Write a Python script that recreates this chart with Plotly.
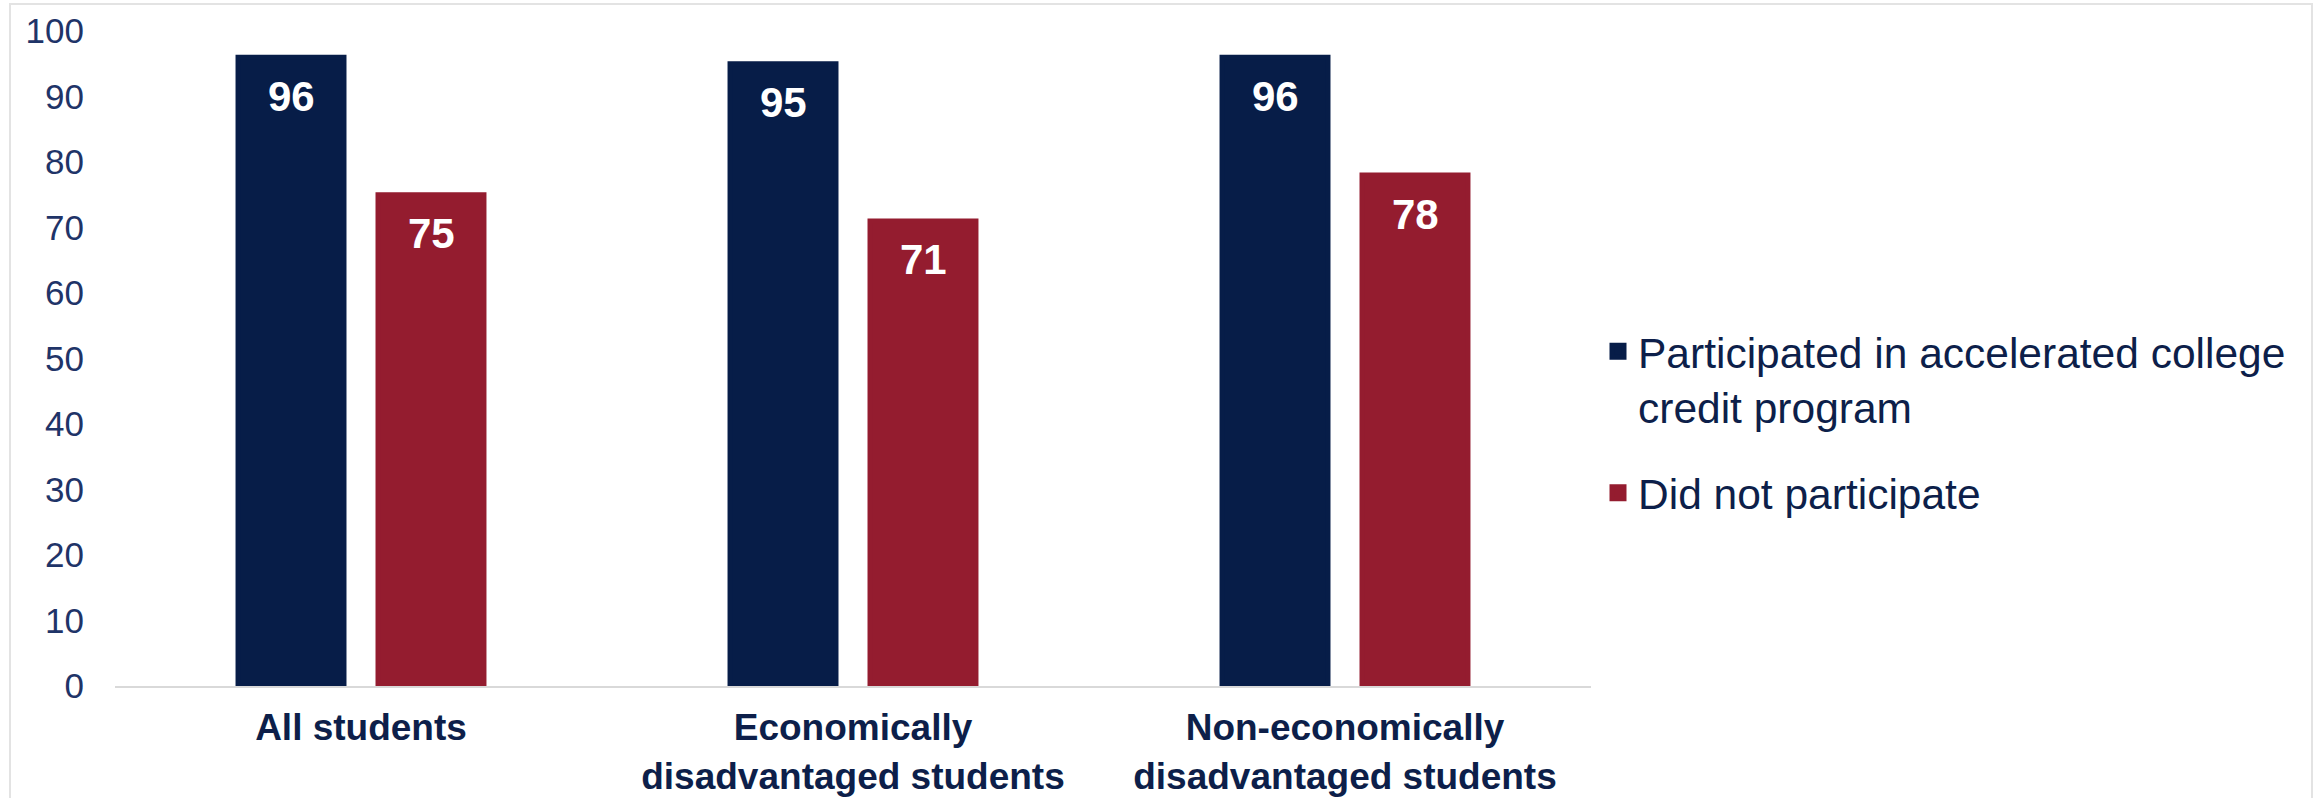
import plotly.graph_objects as go

# ---- data ----
categories = [
    "All students",
    "Economically<br>disadvantaged students",
    "Non-economically<br>disadvantaged students",
]
series_names = [
    "Participated in accelerated college<br>credit program",
    "Did not participate",
]
participated = [96, 95, 96]
did_not = [75, 71, 78]
y_ticks = [0, 10, 20, 30, 40, 50, 60, 70, 80, 90, 100]

# ---- styles ----
W, H = 2320, 798
L, R, T, B = 115, 729, 31, 112
PW, PH = W - L - R, H - T - B
NAVY = "#071D48"
RED = "#941C2F"
TEXT = "#0D1F4A"
TICK = "#1F3468"
FONT = "Liberation Sans, Arial, sans-serif"

def px_to_paper_x(px):
    return (px - L) / PW

def px_to_paper_y(py):
    return (H - B - py) / PH

fig = go.Figure()
for name, vals, col in [(series_names[0], participated, NAVY), (series_names[1], did_not, RED)]:
    fig.add_trace(go.Bar(
        x=categories, y=vals, name=name, legendgroup=name,
        marker=dict(color=col, line=dict(color=col, width=5)),
        hoverinfo="x+y",
    ))

annotations = []
for k, vals in enumerate([participated, did_not]):
    shift = -70 if k == 0 else 70
    for c, v in zip(categories, vals):
        annotations.append(dict(
            x=c, y=v, xref="x", yref="y", text=str(v), showarrow=False,
            xshift=shift, yshift=-39, yanchor="middle", xanchor="center",
            font=dict(family=FONT, size=42, color="white", weight="bold"),
        ))

fig.update_layout(
    width=W, height=H,
    margin=dict(l=L, r=R, t=T, b=B, autoexpand=False),
    paper_bgcolor="white", plot_bgcolor="white",
    barmode="group", bargap=0.431, bargroupgap=0.243,
    font=dict(family=FONT, color=TEXT),
    showlegend=True,
    legend=dict(
        x=px_to_paper_x(1598), y=px_to_paper_y(317), xanchor="left", yanchor="top",
        font=dict(family=FONT, size=42.5, color=TEXT),
        valign="top", tracegroupgap=28, bgcolor="rgba(0,0,0,0)",
    ),
    xaxis=dict(
        type="category", range=[-0.5, 2.5],
        showline=True, linecolor="#D9D9D9", linewidth=2,
        showgrid=False, ticks="", zeroline=False,
        tickfont=dict(family=FONT, size=37, color=TEXT, weight="bold"),
        ticklabelstandoff=8,
    ),
    yaxis=dict(
        range=[0, 100], tickvals=y_ticks, showgrid=False, zeroline=False,
        showline=False, ticks="",
        tickfont=dict(family=FONT, size=35, color=TICK),
        ticklabelstandoff=30,
    ),
    annotations=annotations,
    shapes=[dict(
        type="rect", xref="paper", yref="paper",
        x0=px_to_paper_x(10), x1=px_to_paper_x(2312),
        y0=px_to_paper_y(810), y1=px_to_paper_y(4),
        line=dict(color="#E3E3E3", width=2), fillcolor="rgba(0,0,0,0)", layer="below",
    )],
)

fig.write_html("out.html")
